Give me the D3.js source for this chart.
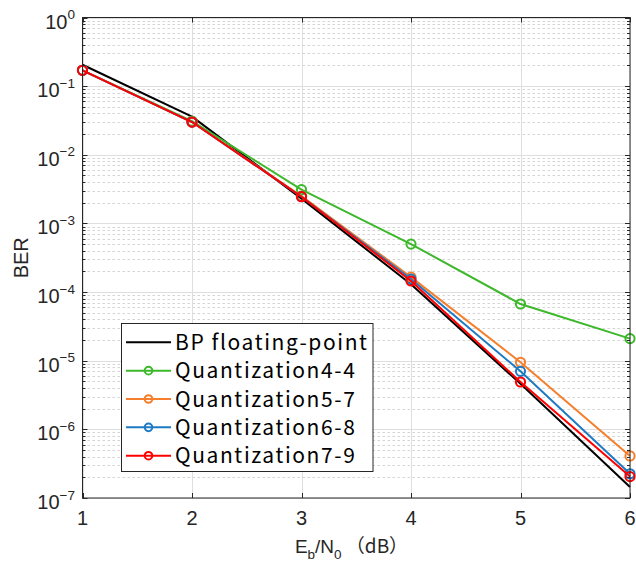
<!DOCTYPE html>
<html>
<head>
<meta charset="utf-8">
<script src="https://cdn.jsdelivr.net/npm/d3@7"></script>
<style>
  body { margin: 0; background: #fff; }
  svg { display: block; }
</style>
</head>
<body>
<svg id="chart" width="636" height="564"></svg>
<script>
// -----
// DATA
// -----
const ebn0 = [1, 2, 3, 4, 5, 6];
const berFloat = [0.205, 0.036, 2.3e-3, 1.3e-4, 4.6e-6, 1.45e-7];
const berQ44 = [0.17, 0.031, 3.1e-3, 5.0e-4, 6.7e-5, 2.1e-5];
const berQ57 = [0.17, 0.030, 2.5e-3, 1.65e-4, 9.5e-6, 4.1e-7];
const berQ68 = [0.17, 0.030, 2.45e-3, 1.55e-4, 7.0e-6, 2.25e-7];
const berQ79 = [0.17, 0.030, 2.45e-3, 1.45e-4, 4.9e-6, 2.05e-7];
const seriesNames = ["BP floating-point", "Quantization4-4", "Quantization5-7", "Quantization6-8", "Quantization7-9"];
const xTicks = [1, 2, 3, 4, 5, 6];
const yExponents = [0, -1, -2, -3, -4, -5, -6, -7];

const series = [
    { name: seriesNames[0], values: berFloat, color: "#000000", marker: false },
    { name: seriesNames[1], values: berQ44, color: "#3cb82a", marker: true },
    { name: seriesNames[2], values: berQ57, color: "#f57f2c", marker: true },
    { name: seriesNames[3], values: berQ68, color: "#1f7ac4", marker: true },
    { name: seriesNames[4], values: berQ79, color: "#ff0000", marker: true },
];

// -----
// LAYOUT
// -----
const svg = d3.select("#chart");
const plotLeft = 82.5, plotRight = 630, plotTop = 17.5, plotBottom = 498;
const tickFont = "'Liberation Sans', Arial, Helvetica, sans-serif";
const legendFont = "'Noto Sans CJK JP', 'Noto Sans', sans-serif";

const xScale = d3.scaleLinear().domain([1, 6]).range([plotLeft, plotRight]);
const yScale = d3.scaleLog().domain([1e-7, 1]).range([plotBottom, plotTop]);

const minorValues = [];
yExponents.slice(1).forEach(e => {
    for (let m = 2; m <= 9; m++) minorValues.push(m * Math.pow(10, e));
});

// -----
// GRID
// -----
const grid = svg.append("g").attr("class", "grid");
grid.append("g")
    .attr("stroke", "#d4d4d4")
    .attr("stroke-width", 1)
    .attr("stroke-dasharray", "2.5,2.5")
    .selectAll("line")
    .data(minorValues)
    .join("line")
    .attr("x1", plotLeft).attr("x2", plotRight)
    .attr("y1", d => Math.round(yScale(d)) + 0.5)
    .attr("y2", d => Math.round(yScale(d)) + 0.5);

grid.append("g")
    .attr("stroke", "#dedede")
    .attr("stroke-width", 1)
    .selectAll("line")
    .data(yExponents)
    .join("line")
    .attr("x1", plotLeft).attr("x2", plotRight)
    .attr("y1", d => Math.round(yScale(Math.pow(10, d))) + 0.5)
    .attr("y2", d => Math.round(yScale(Math.pow(10, d))) + 0.5);

grid.append("g")
    .attr("stroke", "#dedede")
    .attr("stroke-width", 1)
    .selectAll("line")
    .data(xTicks)
    .join("line")
    .attr("x1", d => Math.round(xScale(d)) + 0.5)
    .attr("x2", d => Math.round(xScale(d)) + 0.5)
    .attr("y1", plotTop).attr("y2", plotBottom);

// -----
// SERIES
// -----
const line = d3.line()
    .x((d, i) => xScale(ebn0[i]))
    .y(d => yScale(d));

const plot = svg.append("g").attr("class", "series");
series.forEach(s => {
    plot.append("path")
        .attr("d", line(s.values))
        .attr("fill", "none")
        .attr("stroke", s.color)
        .attr("stroke-width", 2)
        .attr("stroke-linejoin", "round");
    if (s.marker) {
        plot.append("g")
            .selectAll("circle")
            .data(s.values)
            .join("circle")
            .attr("cx", (d, i) => xScale(ebn0[i]))
            .attr("cy", d => yScale(d))
            .attr("r", 4.6)
            .attr("fill", "none")
            .attr("stroke", s.color)
            .attr("stroke-width", 2);
    }
});

// -----
// AXES BOX + TICKS
// -----
const axes = svg.append("g").attr("class", "axes").attr("stroke", "#262626").attr("stroke-width", 1);
axes.append("rect")
    .attr("x", plotLeft).attr("y", plotTop)
    .attr("width", plotRight - plotLeft).attr("height", plotBottom - plotTop)
    .attr("fill", "none");

// x ticks, inside, bottom and top
axes.append("g")
    .selectAll("path")
    .data(xTicks)
    .join("path")
    .attr("d", d => {
        const x = Math.round(xScale(d)) + 0.5;
        return `M${x},${plotBottom}V${plotBottom - 5}M${x},${plotTop}V${plotTop + 5}`;
    });

// y major ticks, inside, left and right
axes.append("g")
    .selectAll("path")
    .data(yExponents)
    .join("path")
    .attr("d", d => {
        const y = Math.round(yScale(Math.pow(10, d))) + 0.5;
        return `M${plotLeft},${y}H${plotLeft + 5}M${plotRight},${y}H${plotRight - 5}`;
    });

// y minor ticks
axes.append("g")
    .selectAll("path")
    .data(minorValues)
    .join("path")
    .attr("d", d => {
        const y = Math.round(yScale(d)) + 0.5;
        return `M${plotLeft},${y}H${plotLeft + 3}M${plotRight},${y}H${plotRight - 3}`;
    });

// tick labels
svg.append("g")
    .attr("font-family", tickFont)
    .attr("font-size", 20)
    .attr("fill", "#262626")
    .attr("text-anchor", "middle")
    .selectAll("text")
    .data(xTicks)
    .join("text")
    .attr("x", d => xScale(d))
    .attr("y", plotBottom + 27)
    .text(d => d);

const yLabels = svg.append("g")
    .attr("font-family", tickFont)
    .attr("fill", "#262626")
    .attr("text-anchor", "end")
    .selectAll("text")
    .data(yExponents)
    .join("text")
    .attr("x", 75)
    .attr("y", d => yScale(Math.pow(10, d)) + 11);
yLabels.append("tspan").attr("font-size", 20).text("10");
yLabels.append("tspan")
    .attr("font-size", 13.5)
    .attr("dy", -9.5)
    .text(d => d === 0 ? "0" : "\u2212" + Math.abs(d));

// axis titles
const xTitle = svg.append("text")
    .attr("x", 351.5)
    .attr("y", 553)
    .attr("text-anchor", "middle")
    .attr("font-family", tickFont)
    .attr("font-size", 19)
    .attr("fill", "#262626");
xTitle.append("tspan").text("E");
xTitle.append("tspan").attr("font-size", 13.5).attr("dy", 6).text("b");
xTitle.append("tspan").attr("dy", -6).text("/N");
xTitle.append("tspan").attr("font-size", 13.5).attr("dy", 6).text("0");
xTitle.append("tspan").attr("dy", -6).attr("font-family", legendFont).text(" （dB）");

svg.append("text")
    .attr("transform", `translate(28,${(plotTop + plotBottom) / 2}) rotate(-90)`)
    .attr("text-anchor", "middle")
    .attr("font-family", tickFont)
    .attr("font-size", 20)
    .attr("fill", "#262626")
    .text("BER");

// -----
// LEGEND
// -----
const legend = svg.append("g").attr("class", "legend");
legend.append("rect")
    .attr("x", 121.5).attr("y", 323.5)
    .attr("width", 251.5).attr("height", 148)
    .attr("fill", "#fff")
    .attr("stroke", "#262626")
    .attr("stroke-width", 1);

const rows = legend.selectAll("g.row")
    .data(series)
    .join("g")
    .attr("class", "row")
    .attr("transform", (d, i) => `translate(0,${342.3 + i * 28.35})`);
rows.append("line")
    .attr("x1", 126).attr("x2", 171)
    .attr("stroke", d => d.color)
    .attr("stroke-width", 2);
rows.filter(d => d.marker)
    .append("circle")
    .attr("cx", 148.5)
    .attr("r", 3.8)
    .attr("fill", "none")
    .attr("stroke", d => d.color)
    .attr("stroke-width", 2);
rows.append("text")
    .attr("x", 175)
    .attr("y", 7.5)
    .attr("font-family", legendFont)
    .attr("font-size", 21)
    .attr("letter-spacing", 1.6)
    .attr("fill", "#000")
    .text(d => d.name);
</script>
</body>
</html>
